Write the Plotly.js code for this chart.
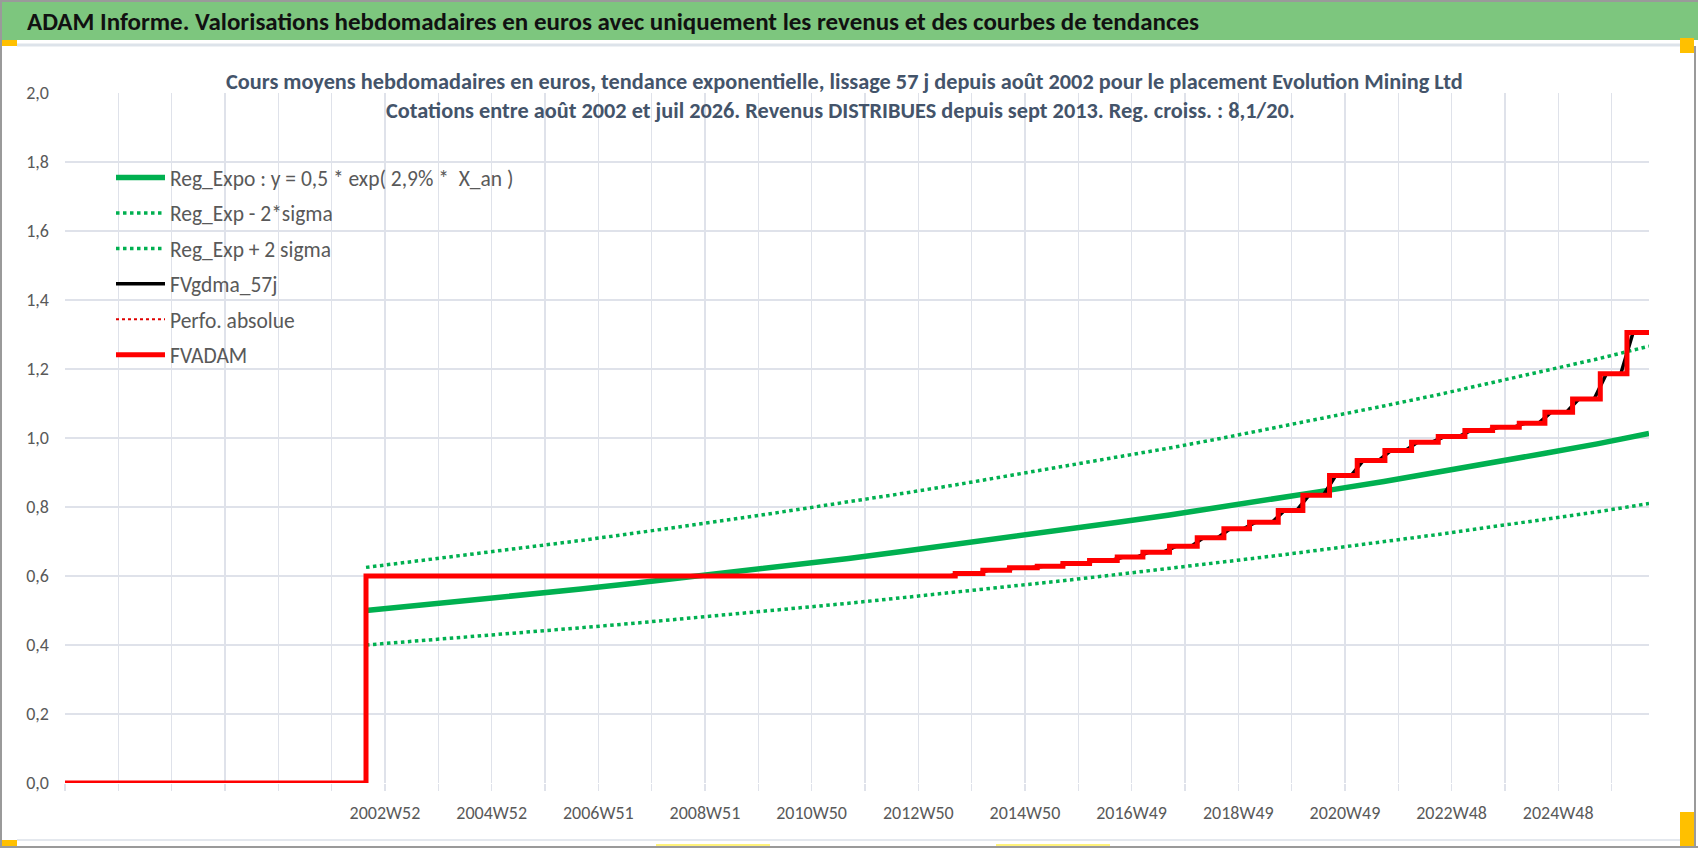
<!DOCTYPE html>
<html>
<head>
<meta charset="utf-8">
<script src="https://cdn.plot.ly/plotly-3.0.1.min.js"></script>
<style>
html,body{margin:0;padding:0;background:#fff;}
#chart{width:1698px;height:848px;}
</style>
</head>
<body>
<div id="chart"></div>
<script>
// x = week number counted from 1997W01 (category index of the weekly axis)
const tickWeeks  = [312, 416, 520, 624, 728, 832, 936, 1040, 1144, 1248, 1352, 1456];
const tickLabels = ["2002W52","2004W52","2006W51","2008W51","2010W50","2012W50","2014W50","2016W49","2018W49","2020W49","2022W48","2024W48"];
const axisEndWeek = 1544.5;

// exponential regression and +/- 2 sigma bands (yearly readings, from Aug 2002)
const regWeeks = [293.5, 346, 398, 450, 503, 555, 607, 659, 711, 764, 816, 868, 920, 972, 1025, 1077, 1129, 1181, 1233, 1286, 1338, 1390, 1442, 1494, 1544.5];
const regExpo  = [0.500,0.515,0.530,0.546,0.562,0.579,0.596,0.614,0.633,0.651,0.671,0.691,0.712,0.733,0.755,0.777,0.800,0.824,0.849,0.874,0.900,0.927,0.955,0.983,1.013];
const regMinus = [0.400,0.412,0.424,0.437,0.450,0.463,0.477,0.491,0.506,0.521,0.537,0.553,0.570,0.586,0.604,0.622,0.640,0.659,0.679,0.699,0.720,0.742,0.764,0.786,0.810];
const regPlus  = [0.625,0.644,0.663,0.683,0.703,0.724,0.745,0.768,0.791,0.814,0.839,0.864,0.890,0.916,0.944,0.971,1.000,1.030,1.061,1.093,1.125,1.159,1.194,1.229,1.266];

// FVADAM staircase: week of each change and level held from that week
const adamWeeks = [0, 293.5, 868, 895, 921, 948, 973, 999, 1026, 1051, 1077, 1104, 1130, 1155, 1183, 1207, 1233, 1260, 1287, 1313, 1339, 1365, 1392, 1418, 1443, 1470, 1497, 1523, 1544.5];
const adamValues = [0, 0.600, 0.607, 0.617, 0.624, 0.628, 0.636, 0.645, 0.655, 0.669, 0.686, 0.711, 0.737, 0.756, 0.790, 0.834, 0.891, 0.935, 0.964, 0.988, 1.004, 1.022, 1.031, 1.043, 1.075, 1.113, 1.186, 1.306, 1.306];

// FVgdma_57j smoothed curve (readings around each step)
const gdmaWeeks = [0, 293.5, 293.5, 862, 874, 889, 901, 915, 927, 942, 954, 967, 979, 993, 1005, 1020, 1032, 1045, 1057, 1071, 1083, 1098, 1110, 1124, 1136, 1149, 1161, 1177, 1189, 1201, 1213, 1227, 1239, 1254, 1266, 1281, 1293, 1307, 1319, 1333, 1345, 1359, 1371, 1386, 1398, 1412, 1424, 1437, 1449, 1464, 1476, 1491, 1503, 1517, 1529, 1544.5];
const gdmaValues = [0, 0, 0.6, 0.6, 0.607, 0.607, 0.617, 0.617, 0.624, 0.624, 0.628, 0.628, 0.636, 0.636, 0.645, 0.645, 0.655, 0.655, 0.669, 0.669, 0.686, 0.686, 0.711, 0.711, 0.737, 0.737, 0.756, 0.756, 0.790, 0.790, 0.834, 0.834, 0.891, 0.891, 0.935, 0.935, 0.964, 0.964, 0.988, 0.988, 1.004, 1.004, 1.022, 1.022, 1.031, 1.031, 1.043, 1.043, 1.075, 1.075, 1.113, 1.113, 1.186, 1.186, 1.306, 1.306];

// Perfo. absolue (coincides with FVADAM on the picture)
const perfoWeeks = adamWeeks;
const perfoValues = adamValues;

const seriesNames = ["Reg_Expo : y = 0,5 * exp( 2,9% *  X_an )","Reg_Exp - 2*sigma","Reg_Exp + 2 sigma","FVgdma_57j","Perfo. absolue","FVADAM"];

const FONT = "Carlito, Calibri, Lato, sans-serif";
const W = 1698, H = 848;
const M = {l:65, r:49, t:93, b:65};
const pw = W - M.l - M.r, ph = H - M.t - M.b;
function px(x){ return (x - M.l)/pw; }
function py(y){ return (H - M.b - y)/ph; }
function rect(x0,y0,x1,y1,color){
  return {type:'rect', xref:'paper', yref:'paper', x0:px(x0), x1:px(x1), y0:py(y1), y1:py(y0),
          fillcolor:color, line:{width:0}, layer:'below'};
}
function hline(x0,x1,y,color,w){
  return {type:'line', xref:'paper', yref:'paper', x0:px(x0), x1:px(x1), y0:py(y), y1:py(y), line:{color:color,width:w}};
}
function vline(x,y0,y1,color,w){
  return {type:'line', xref:'paper', yref:'paper', x0:px(x), x1:px(x), y0:py(y0), y1:py(y1), line:{color:color,width:w}};
}

const green = '#00B050';
const traces = [
  {x:regWeeks, y:regExpo, name:seriesNames[0], mode:'lines', line:{color:green, width:5.5}, legendgroup:'a'},
  {x:regWeeks, y:regMinus, name:seriesNames[1], mode:'lines', line:{color:green, width:3.5, dash:'dot'}, legendgroup:'b'},
  {x:regWeeks, y:regPlus, name:seriesNames[2], mode:'lines', line:{color:green, width:3.5, dash:'dot'}, legendgroup:'c'},
  {x:gdmaWeeks, y:gdmaValues, name:seriesNames[3], mode:'lines', line:{color:'#000000', width:3.5}, legendgroup:'d'},
  {x:perfoWeeks, y:perfoValues, name:seriesNames[4], mode:'lines', line:{color:'#E00000', width:2, dash:'dot', shape:'hv'}, legendgroup:'e'},
  {x:adamWeeks, y:adamValues, name:seriesNames[5], mode:'lines', line:{color:'#FF0000', width:5, shape:'hv'}, legendgroup:'f'}
];

const shapes = [
  rect(0,0,W,40,'#7DC67E'),
  hline(17,1680,45,'#DDE3EA',3),
  vline(1,0,848,'#9A9A9A',2),
  hline(0,W,1,'#9A9A9A',2),
  hline(17,1680,840,'#E4E8EE',2),
  hline(0,W,847,'#9A9A9A',2),
  vline(1695,46,848,'#9A9A9A',2),
  rect(0,40,17,46,'#FFC000'),
  rect(1680,38,1694,53,'#FFC000'),
  rect(1680,812,1694,846,'#FFC000'),
  rect(0,840,17,846,'#FFC000'),
  hline(656,770,845,'#FFF27A',2),
  hline(996,1110,845,'#FFF27A',2)
];

const annotations = [
  {text:'<b>Cours moyens hebdomadaires en euros, tendance exponentielle, lissage 57 j depuis août 2002 pour le placement Evolution Mining Ltd</b>',
   xref:'paper', yref:'paper', x:px(844), y:py(81), xanchor:'center', yanchor:'middle', showarrow:false,
   font:{family:FONT, size:22.3, color:'#44546A'}},
  {text:'<b>Cotations entre août 2002 et juil 2026. Revenus DISTRIBUES depuis sept 2013. Reg. croiss. : 8,1/20.</b>',
   xref:'paper', yref:'paper', x:px(840), y:py(110), xanchor:'center', yanchor:'middle', showarrow:false,
   font:{family:FONT, size:22.3, color:'#44546A'}}
];

const layout = {
  width:W, height:H,
  margin:M,
  paper_bgcolor:'#ffffff', plot_bgcolor:'#ffffff',
  separators:', ',
  font:{family:FONT, color:'#595959'},
  title:{text:'<b>ADAM Informe. Valorisations hebdomadaires en euros avec uniquement les revenus et des courbes de tendances</b>',
         x:27/W, xref:'container', xanchor:'left', y:1-21/H, yref:'container', yanchor:'middle',
         font:{family:FONT, size:25, color:'#111111'}},
  showlegend:true,
  legend:{x:px(111), y:py(157), xanchor:'left', yanchor:'top', bgcolor:'rgba(0,0,0,0)',
          font:{family:FONT, size:21.5, color:'#595959'}, tracegroupgap:4.5, traceorder:'grouped', itemwidth:49},
  xaxis:{range:[0, axisEndWeek], tickmode:'array', tickvals:tickWeeks, ticktext:tickLabels,
         showgrid:true, gridcolor:'#DFE2EA', gridwidth:1.3, zeroline:false, showline:false,
         ticks:'outside', ticklen:7, tickcolor:'#DFE2EA', tickwidth:1.3, ticklabelstandoff:6,
         tickfont:{family:FONT, size:18, color:'#595959'},
         minor:{tick0:0, dtick:52, showgrid:true, gridcolor:'#DFE2EA', gridwidth:1.3, ticks:'outside', ticklen:7, tickcolor:'#DFE2EA', tickwidth:1.3}},
  yaxis:{range:[0,2], dtick:0.2, tick0:0, tickformat:'.1f', showgrid:true, gridcolor:'#DFE2EA', gridwidth:1.3,
         zeroline:false, showline:false, ticks:'', ticklabelstandoff:15,
         tickfont:{family:FONT, size:18, color:'#595959'}},
  shapes:shapes,
  annotations:annotations
};

Plotly.newPlot('chart', traces, layout, {displayModeBar:false, staticPlot:true});
</script>
</body>
</html>
